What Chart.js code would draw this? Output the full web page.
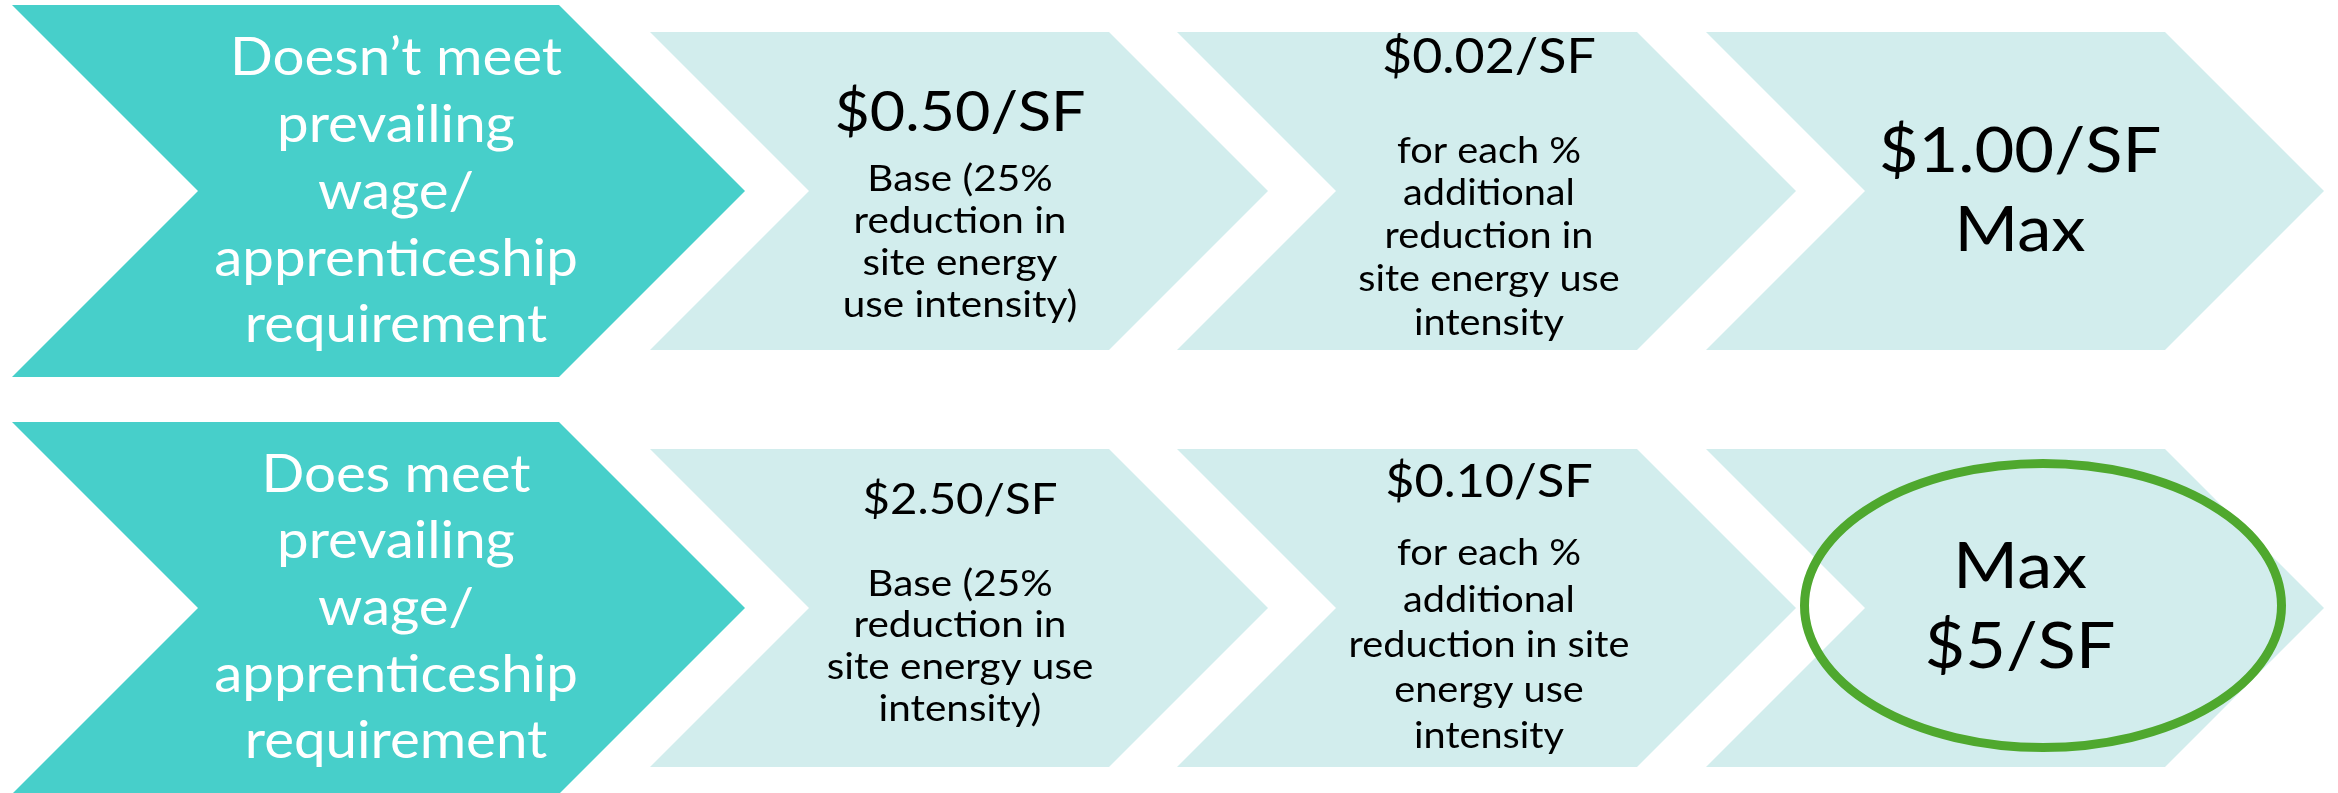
<!DOCTYPE html>
<html>
<head>
<meta charset="utf-8">
<script src="https://cdn.jsdelivr.net/npm/chart.js@4.4.1/dist/chart.umd.min.js"></script>
<style>
  html, body { margin: 0; padding: 0; background: #fff; }
  #steps { display: block; }
</style>
</head>
<body>
<canvas id="steps" width="2338" height="793"></canvas>
<script>
// rows of the incentive ladder
const rowLabels = [
  ["Doesn’t meet", "prevailing", "wage/", "apprenticeship", "requirement"],
  ["Does meet", "prevailing", "wage/", "apprenticeship", "requirement"]
];
const baseRates = ["$0.50/SF", "$2.50/SF"];
const baseNotes = [
  ["Base (25%", "reduction in", "site energy", "use intensity)"],
  ["Base (25%", "reduction in", "site energy use", "intensity)"]
];
const stepRates = ["$0.02/SF", "$0.10/SF"];
const stepNotes = [
  ["for each %", "additional", "reduction in", "site energy use", "intensity"],
  ["for each %", "additional", "reduction in site", "energy use", "intensity"]
];
const maxLabels = [["$1.00/SF", "Max"], ["Max", "$5/SF"]];
const circled = [false, true];

// layout (value space of the hidden axes = pixels of the picture)
const W = 2338, H = 793;
const rowMid = [191, 608];
const headLeft = 12, headTip = 745, headHalf = 186;
const stepLeft = [650, 1177, 1706];
const stepTip = [1268, 1796, 2324];
const stepHalf = 159;
const textX = [396, 960, 1489, 2020];
const lay = [
  {
    label: { base: [75, 142, 209, 276, 342], cap: 37 },
    rate: { base: [131], cap: 40 },
    note: { base: [191, 233, 275, 317], cap: 26.5 },
    step: { base: [73], cap: 34 },
    stepNote: { base: [163, 205, 248, 291, 335], cap: 26 },
    max: { base: [172, 251], cap: 45 }
  },
  {
    label: { base: [492, 558, 625, 692, 758], cap: 37 },
    rate: { base: [514], cap: 31 },
    note: { base: [596, 637, 679, 721], cap: 26.5 },
    step: { base: [497], cap: 33 },
    stepNote: { base: [565, 612, 657, 702, 748], cap: 26 },
    max: { base: [588, 668], cap: 46 }
  }
];
const ring = { x: 2043, y: 605.5, rx: 238.5, ry: 142, width: 9 };

const DARK = "#47cfca";
const LIGHT = "#d2eded";
const GREEN = "#4fa82e";
const CAP = 0.7165; // Lato cap height / em

function chevron(ctx, x, y, left, tip, mid, half) {
  const l = x.getPixelForValue(left);
  const t = x.getPixelForValue(tip);
  const corner = x.getPixelForValue(tip - half);
  const notch = x.getPixelForValue(left + half);
  const top = y.getPixelForValue(mid - half);
  const bot = y.getPixelForValue(mid + half);
  const m = y.getPixelForValue(mid);
  ctx.beginPath();
  ctx.moveTo(l, top);
  ctx.lineTo(corner, top);
  ctx.lineTo(t, m);
  ctx.lineTo(corner, bot);
  ctx.lineTo(l, bot);
  ctx.lineTo(notch, m);
  ctx.closePath();
  ctx.fill();
}

let squeeze = null;

function lines(ctx, x, y, cx, texts, spec, color) {
  ctx.font = (spec.cap / CAP).toFixed(1) + "px Lato";
  ctx.fillStyle = color;
  ctx.textAlign = "center";
  ctx.textBaseline = "alphabetic";
  texts.forEach((t, i) => {
    ctx.save();
    ctx.translate(x.getPixelForValue(cx), y.getPixelForValue(spec.base[i]));
    ctx.scale(squeeze, 1);
    ctx.fillText(t, 0, 0);
    ctx.restore();
  });
}

const ladder = {
  id: "ladder",
  beforeDatasetsDraw(chart) {
    const { ctx, scales: { x, y } } = chart;
    ctx.save();
    if (squeeze === null) {
      ctx.font = (lay[0].label.cap / CAP).toFixed(1) + "px Lato";
      squeeze = 332 / ctx.measureText(rowLabels[0][0]).width;
    }
    rowLabels.forEach((label, r) => {
      ctx.fillStyle = DARK;
      chevron(ctx, x, y, headLeft, headTip, rowMid[r], headHalf);
      ctx.fillStyle = LIGHT;
      stepLeft.forEach((left, c) => chevron(ctx, x, y, left, stepTip[c], rowMid[r], stepHalf));

      lines(ctx, x, y, textX[0], label, lay[r].label, "#fff");
      lines(ctx, x, y, textX[1], [baseRates[r]], lay[r].rate, "#000");
      lines(ctx, x, y, textX[1], baseNotes[r], lay[r].note, "#000");
      lines(ctx, x, y, textX[2], [stepRates[r]], lay[r].step, "#000");
      lines(ctx, x, y, textX[2], stepNotes[r], lay[r].stepNote, "#000");
      lines(ctx, x, y, textX[3], maxLabels[r], lay[r].max, "#000");

      if (circled[r]) {
        ctx.strokeStyle = GREEN;
        ctx.lineWidth = ring.width;
        ctx.beginPath();
        ctx.ellipse(x.getPixelForValue(ring.x), y.getPixelForValue(ring.y),
          ring.rx, ring.ry, 0, 0, Math.PI * 2);
        ctx.stroke();
      }
    });
    ctx.restore();
  }
};

new Chart(document.querySelector("#steps"), {
  type: "scatter",
  data: { datasets: [{ data: [], pointRadius: 0 }] },
  options: {
    responsive: false,
    animation: false,
    devicePixelRatio: 1,
    layout: { padding: 0 },
    plugins: { legend: { display: false }, tooltip: { enabled: false } },
    scales: {
      x: { type: "linear", min: 0, max: W, display: false },
      y: { type: "linear", min: 0, max: H, reverse: true, display: false }
    }
  },
  plugins: [ladder]
});
</script>
</body>
</html>
